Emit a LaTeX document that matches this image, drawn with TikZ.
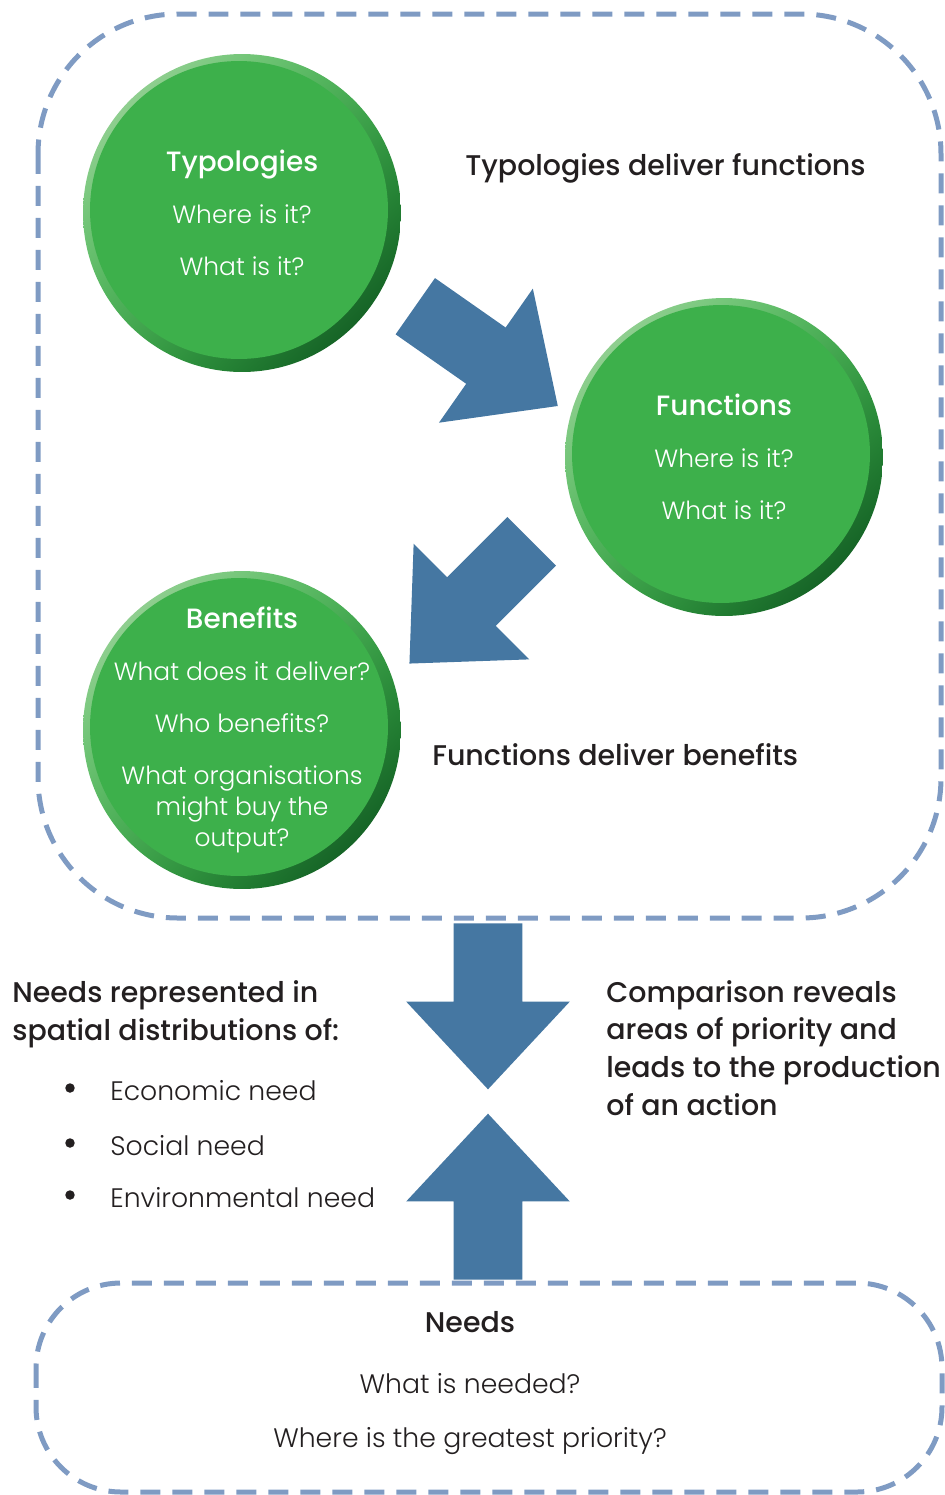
\documentclass[tikz,border=0pt]{standalone}
\usepackage{fontspec}
\setmainfont{Poppins}
\newfontfamily\lightfont{Poppins Light}
\newfontfamily\mediumfont{Poppins Medium}
\usetikzlibrary{shapes.arrows, shadings}

\definecolor{flowblue}{RGB}{69,119,162}
\definecolor{dashblue}{RGB}{127,155,195}
\definecolor{bubblegreen}{RGB}{61,176,75}
\definecolor{bubbledark}{RGB}{4,70,22}
\definecolor{bubblelight}{RGB}{175,221,170}
\definecolor{inkblack}{RGB}{35,31,32}

\newcommand{\bubbletitle}[1]{{\mediumfont\fontsize{15.9}{17.6}\selectfont #1}}

\tikzset{
    dashframe/.style={draw=dashblue, line width=0.1cm, dash pattern=on 0.4cm off 0.24cm},
    bubble/.style={circle, minimum size=6.36cm, inner sep=0pt,
        path picture={
            \shade[shading=bilinear interpolation,
                   upper left=bubblelight, upper right=bubblegreen,
                   lower left=bubblegreen, lower right=bubbledark]
                (path picture bounding box.south west) rectangle (path picture bounding box.north east);
            \fill[bubblegreen] ([shift={(-0.06cm,0.06cm)}]path picture bounding box.center) circle (2.98cm);
        }},
    bubbletext/.style={text=white, align=center, inner sep=0pt,
        font=\lightfont\fontsize{14.2}{17.6}\selectfont},
    flowarrow/.style={single arrow, fill=flowblue, draw=none, anchor=tail,
        inner xsep=0pt, inner ysep=0.68cm, minimum height=3.32cm,
        single arrow head extend=0.95cm, single arrow tip angle=86},
    caption/.style={font=\mediumfont\fontsize{16.2}{21.4}\selectfont, text=inkblack, inner sep=0pt},
    plain/.style={font=\lightfont\fontsize{15.2}{21.4}\selectfont, text=inkblack, inner sep=0pt},
    dot/.style={circle, fill=inkblack, inner sep=0pt, minimum size=0.19cm}
}

\begin{document}
\begin{tikzpicture}[x=0.02cm, y=-0.02cm]
    \useasboundingbox (0,0) rectangle (945,1495);

    % Dashed frames
    \draw[dashframe, rounded corners=2.8cm] (38,14) rectangle (941,918);
    \draw[dashframe, rounded corners=1.7cm] (36,1283) rectangle (942,1492);

    % The three bubbles
    \node[bubble] (typ) at (242,213) {};
    \node[bubbletext] (typtext) at (typ) {\bubbletitle{Typologies}\\[0.42cm] Where is it?\\[0.42cm] What is it?};
    \node[bubble] (fun) at (724,457) {};
    \node[bubbletext] (funtext) at (fun) {\bubbletitle{Functions}\\[0.42cm] Where is it?\\[0.42cm] What is it?};
    \node[bubble] (ben) at (242,730) {};
    \node[bubbletext] (bentext) at (ben) {\bubbletitle{Benefits}\\[0.42cm] What does it deliver?\\[0.42cm] Who benefits?\\[0.42cm] What organisations\\might buy the\\output?};

    % Block arrows between them (placed by their tails)
    \node[flowarrow, rotate=-35, minimum height=3.48cm] (flowa) at (415,306) {};
    \node[flowarrow, rotate=-135, minimum height=3.46cm] (flowb) at (532,541) {};

    \node[caption, anchor=base west] (typfun) at (465,175) {Typologies deliver functions};
    \node[caption, anchor=base west] (funben) at (432,765) {Functions deliver benefits};

    % Needs meet benefits
    \node[flowarrow, rotate=-90] (flowc) at (488,923) {};
    \node[flowarrow, rotate=90] (flowd) at (488,1280) {};

    \node[caption, anchor=base west, align=left] (needsrep) at (12,1040) {Needs represented in\\spatial distributions of:};
    \foreach \need/\y in {Economic need/1100, Social need/1155, Environmental need/1207}
    {
        \node[dot] (dot\y) at (70,\y-12) {};
        \node[plain, anchor=base west] (need\y) at (110,\y) {\need};
    }
    \node[caption, anchor=base west, align=left] (compare) at (606,1115) {Comparison reveals\\areas of priority and\\leads to the production\\of an action};

    % Needs box
    \node[caption, anchor=base] (needs) at (470,1332) {Needs};
    \node[plain, anchor=base] (needq1) at (470,1393) {What is needed?};
    \node[plain, anchor=base] (needq2) at (470,1447) {Where is the greatest priority?};
\end{tikzpicture}
\end{document}
